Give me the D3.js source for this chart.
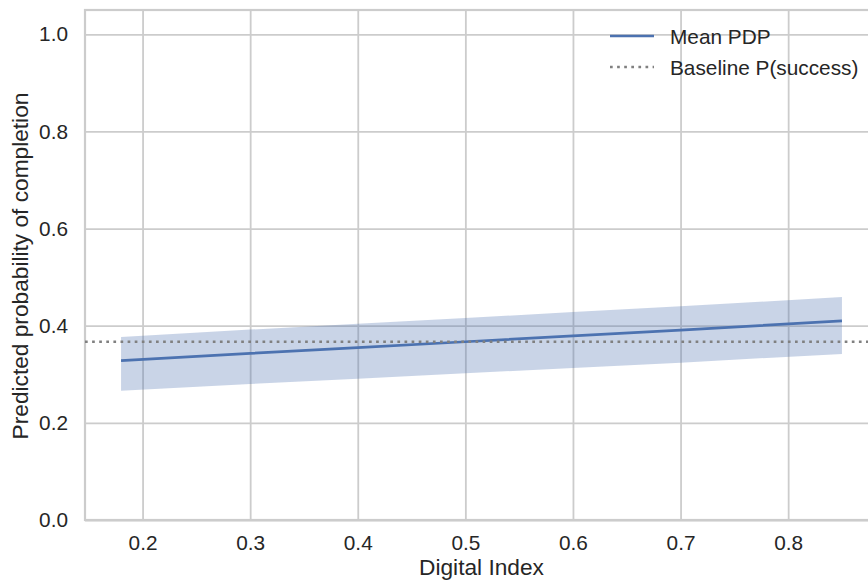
<!DOCTYPE html>
<html>
<head>
<meta charset="utf-8">
<script src="https://cdn.jsdelivr.net/npm/d3@7"></script>
<style>
  body { margin: 0; background: #fff; }
  svg { display: block; font-family: "Liberation Sans", Arial, sans-serif; }
</style>
</head>
<body>
<div id="chart"></div>
<script>
// values
const digitalIndex = [0.18, 0.30, 0.40, 0.50, 0.60, 0.70, 0.85];
const meanPdp     = [0.328, 0.343, 0.355, 0.367, 0.379, 0.391, 0.410];
const lowerBand   = [0.266, 0.280, 0.291, 0.302, 0.313, 0.324, 0.342];
const upperBand   = [0.377, 0.392, 0.404, 0.416, 0.428, 0.440, 0.459];
const baselineP   = 0.367;
const xTicks = [0.2, 0.3, 0.4, 0.5, 0.6, 0.7, 0.8];
const yTicks = [0.0, 0.2, 0.4, 0.6, 0.8, 1.0];
const legendLabels = ['Mean PDP', 'Baseline P(success)'];

const width = 868;
const height = 580;
const plotLeft = 85, plotRight = 878, plotTop = 10, plotBottom = 520;
const blue = '#4c72b0';
const gridColor = '#cccccc';
const tickFont = '20.8px';
const labelFont = '22.7px';

const svg = d3.select('#chart')
              .append('svg')
              .attr('width', width)
              .attr('height', height);

// matplotlib-style 5% margins on x
const xMin = d3.min(digitalIndex), xMax = d3.max(digitalIndex);
const xPad = (xMax - xMin) * 0.05;

const xScale = d3.scaleLinear()
                 .domain([xMin - xPad, xMax + xPad])
                 .range([plotLeft, plotRight]);

const yScale = d3.scaleLinear()
                 .domain([0, 1.05])
                 .range([plotBottom, plotTop]);

const xAxis = d3.axisBottom(xScale)
                .tickValues(xTicks)
                .tickFormat(d3.format('.1f'))
                .tickSize(-(plotBottom - plotTop))
                .tickPadding(15);

const yAxis = d3.axisLeft(yScale)
                .tickValues(yTicks)
                .tickFormat(d3.format('.1f'))
                .tickSize(-(plotRight - plotLeft))
                .tickPadding(17);

const gx = svg.append('g')
   .attr('transform', 'translate(0, ' + plotBottom + ')')
   .call(xAxis);

const gy = svg.append('g')
   .attr('transform', 'translate(' + plotLeft + ', 0)')
   .call(yAxis);

[gx, gy].forEach(g => {
  g.select('.domain').remove();
  g.selectAll('.tick line')
   .attr('stroke', gridColor)
   .attr('stroke-width', 1.8);
  g.selectAll('.tick text')
   .attr('fill', '#262626')
   .style('font-family', '"Liberation Sans", Arial, sans-serif')
   .style('font-size', tickFont);
});

// spines
svg.append('rect')
   .attr('x', plotLeft)
   .attr('y', plotTop)
   .attr('width', plotRight - plotLeft)
   .attr('height', plotBottom - plotTop)
   .attr('fill', 'none')
   .attr('stroke', gridColor)
   .attr('stroke-width', 2.2);

const rows = digitalIndex.map((x, i) => ({ x, mean: meanPdp[i], lo: lowerBand[i], hi: upperBand[i] }));

svg.append('path')
   .datum(rows)
   .attr('d', d3.area()
     .x(d => xScale(d.x))
     .y0(d => yScale(d.lo))
     .y1(d => yScale(d.hi)))
   .attr('fill', blue)
   .attr('fill-opacity', 0.3);

svg.append('path')
   .datum(rows)
   .attr('d', d3.line()
     .x(d => xScale(d.x))
     .y(d => yScale(d.mean)))
   .attr('fill', 'none')
   .attr('stroke', blue)
   .attr('stroke-width', 2.7);

svg.append('line')
   .attr('x1', plotLeft)
   .attr('x2', plotRight)
   .attr('y1', yScale(baselineP))
   .attr('y2', yScale(baselineP))
   .attr('stroke', 'gray')
   .attr('stroke-width', 2.7)
   .attr('stroke-dasharray', '2.7,4.4');

// legend
const legend = svg.append('g');
legendLabels.forEach((label, i) => {
  const y = 36 + i * 31;
  legend.append('line')
        .attr('x1', 610)
        .attr('x2', 654)
        .attr('y1', y)
        .attr('y2', y)
        .attr('stroke', i === 0 ? blue : 'gray')
        .attr('stroke-width', 2.7)
        .attr('stroke-dasharray', i === 0 ? null : '2.7,4.4');
  legend.append('text')
        .attr('x', 670)
        .attr('y', y + 7.5)
        .attr('fill', '#262626')
        .style('font-size', tickFont)
        .text(label);
});

svg.append('text')
   .attr('x', (plotLeft + width) / 2 + 5)
   .attr('y', 575)
   .attr('text-anchor', 'middle')
   .attr('fill', '#262626')
   .style('font-size', labelFont)
   .text('Digital Index');

svg.append('text')
   .attr('transform', 'rotate(-90)')
   .attr('x', -(plotTop + plotBottom) / 2 - 1)
   .attr('y', 28)
   .attr('text-anchor', 'middle')
   .attr('fill', '#262626')
   .style('font-size', labelFont)
   .text('Predicted probability of completion');
</script>
</body>
</html>
